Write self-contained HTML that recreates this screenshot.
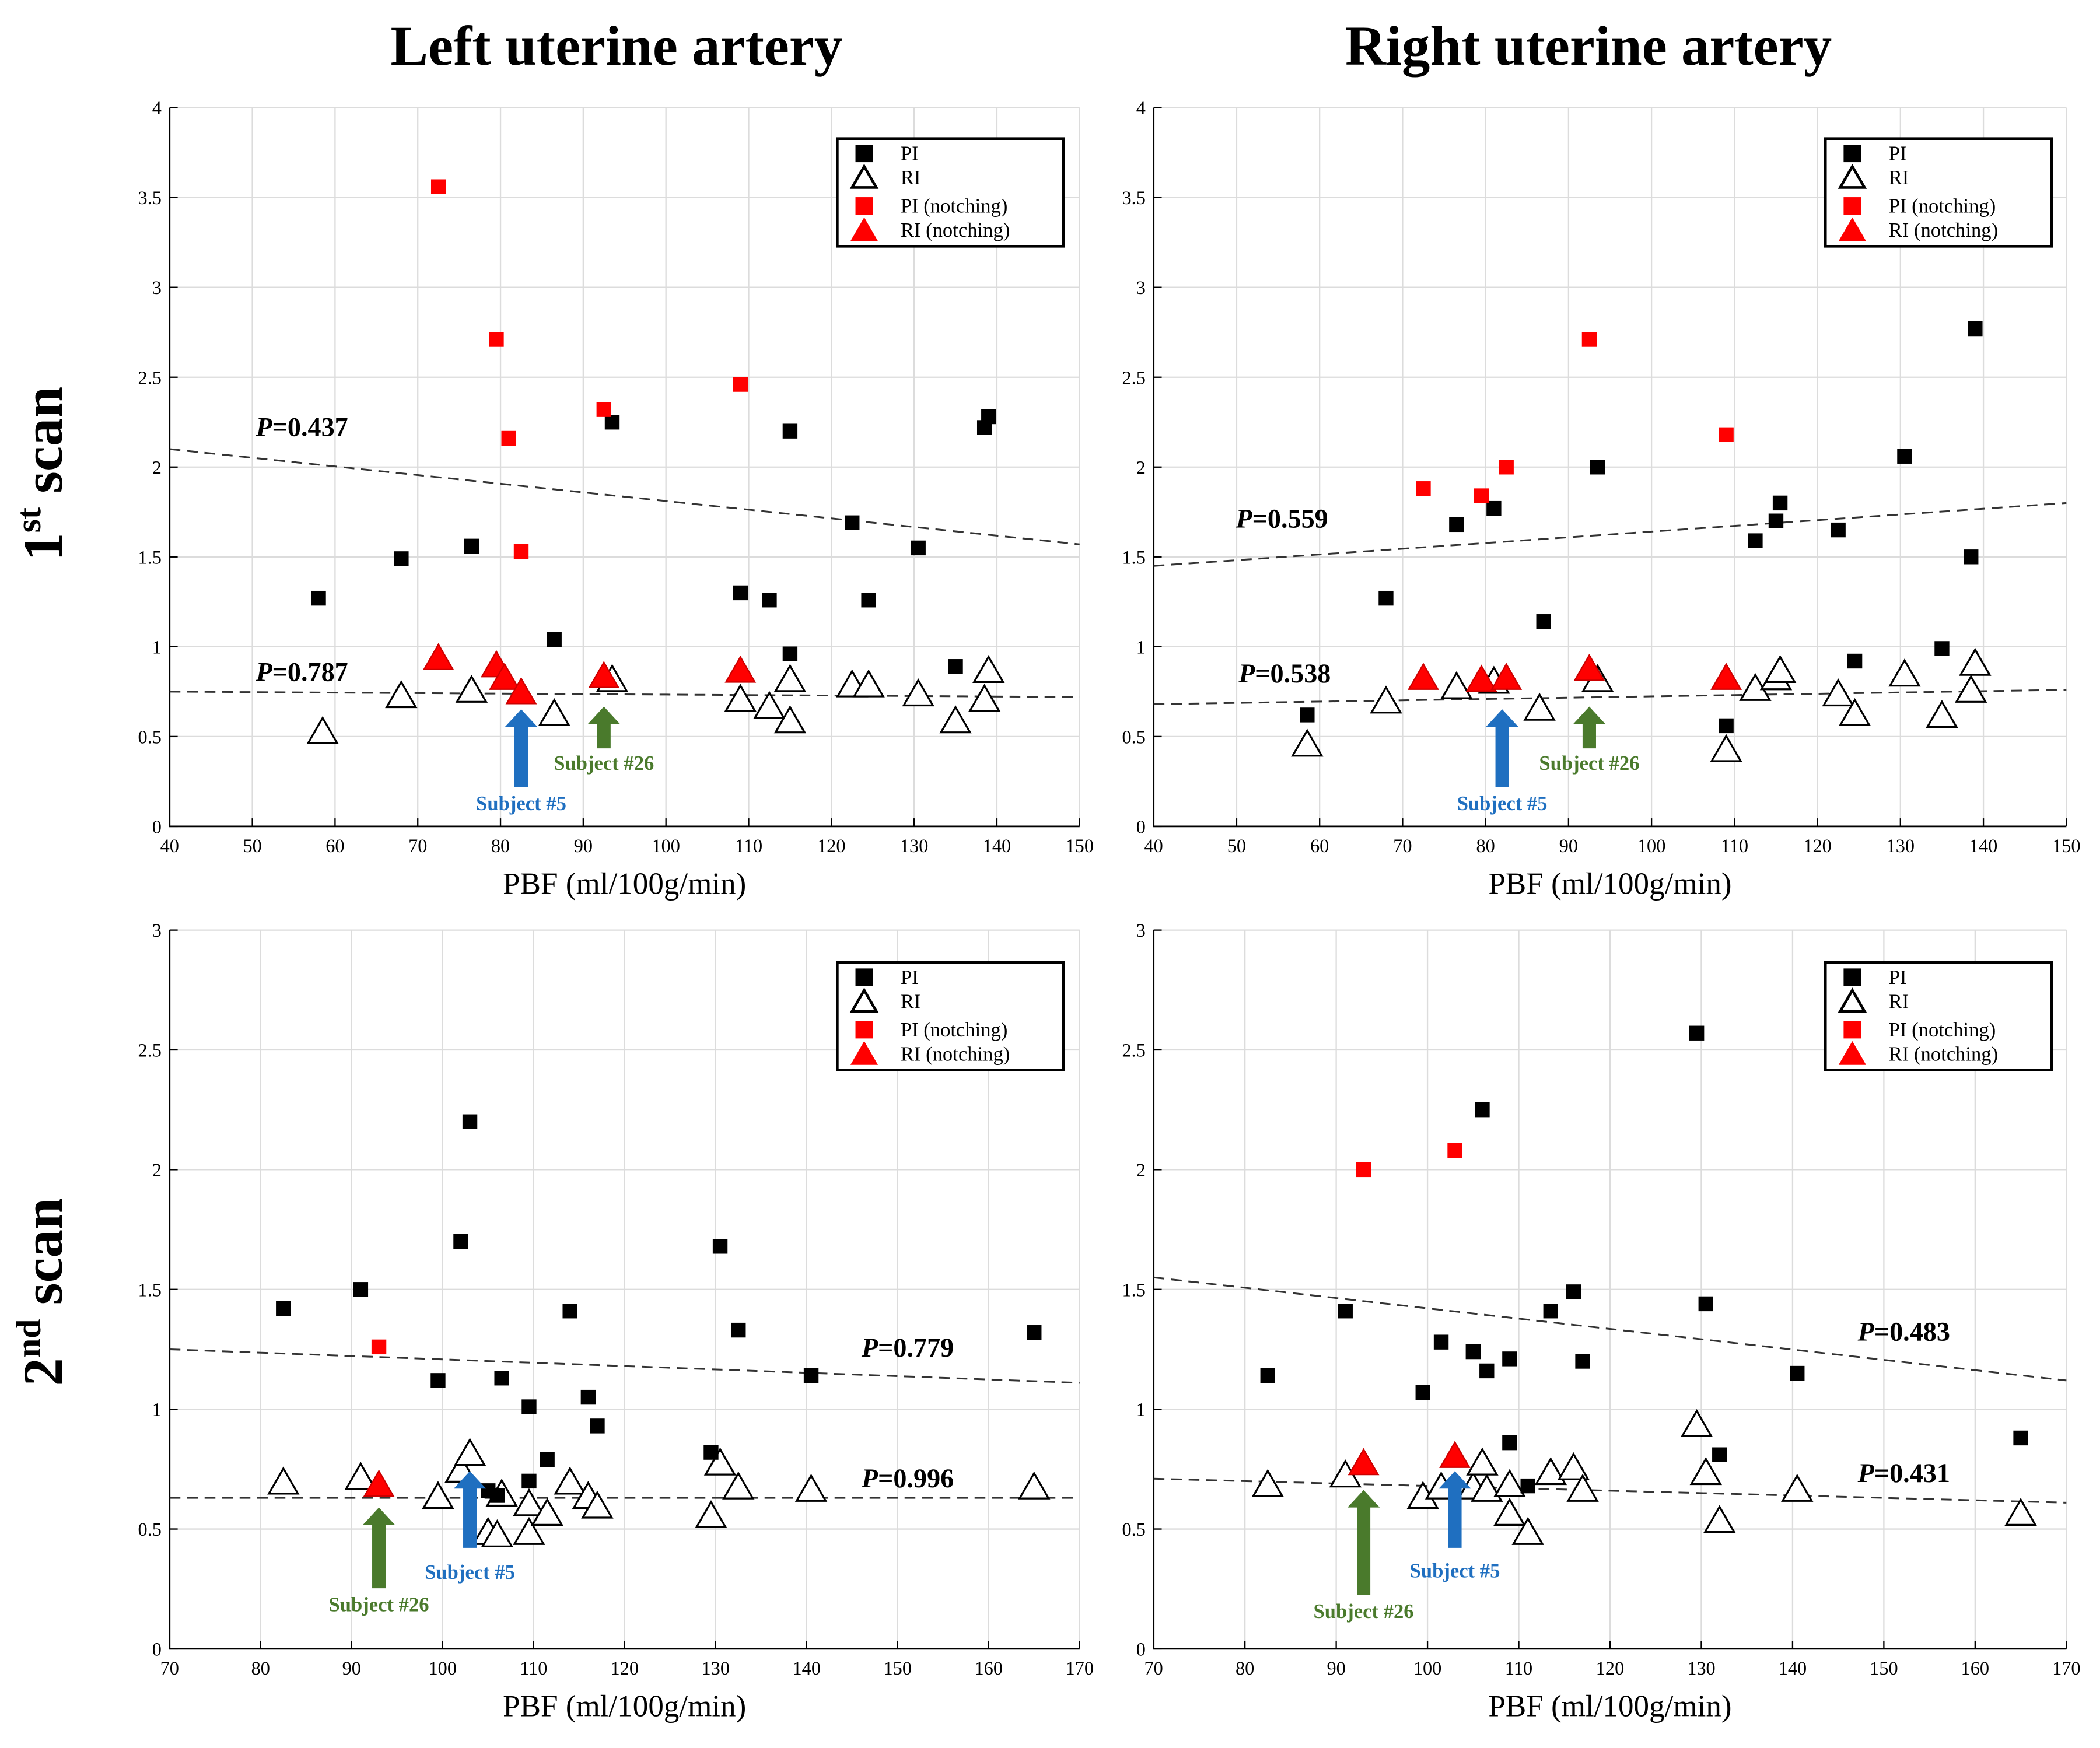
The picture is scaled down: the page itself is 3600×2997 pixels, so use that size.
<!DOCTYPE html>
<html><head><meta charset="utf-8"><style>
html,body{margin:0;padding:0;background:#fff;}
svg{display:block;font-family:"Liberation Serif",serif;}
</style></head><body>
<svg id="fig" width="3600" height="2997" viewBox="0 0 1560 1298.7" xmlns="http://www.w3.org/2000/svg">
<text x="458" y="48" text-anchor="middle" font-size="42" font-weight="bold">Left uterine artery</text>
<text x="1180" y="48" text-anchor="middle" font-size="42" font-weight="bold">Right uterine artery</text>
<text transform="translate(46,352) rotate(-90)" text-anchor="middle" font-size="42" font-weight="bold">1<tspan font-size="26" dy="-16">st</tspan><tspan dy="16"> scan</tspan></text>
<text transform="translate(46,960) rotate(-90)" text-anchor="middle" font-size="42" font-weight="bold">2<tspan font-size="26" dy="-16">nd</tspan><tspan dy="16"> scan</tspan></text>
</svg>
<script>
// ---- Data ----
const tlPI=[[58,1.27],[68,1.49],[76.5,1.56],[86.5,1.04],[93.5,2.25],[109,1.3],[112.5,1.26],[115,2.2],[115,0.96],[122.5,1.69],[124.5,1.26],[130.5,1.55],[135,0.89],[138.5,2.22],[139,2.28]];
const tlPIn=[[72.5,3.56],[79.5,2.71],[81,2.16],[82.5,1.53],[92.5,2.32],[109,2.46]];
const tlRI=[[58.5,0.52],[68,0.72],[76.5,0.75],[86.5,0.62],[93.5,0.81],[109,0.7],[112.5,0.66],[115,0.58],[115,0.81],[122.5,0.78],[124.5,0.78],[130.5,0.73],[135,0.58],[138.5,0.7],[139,0.86]];
const tlRIn=[[72.5,0.93],[79.5,0.89],[80.5,0.82],[82.5,0.74],[92.5,0.83],[109,0.86]];
const tlFitPI=[2.1,1.57], tlFitRI=[0.75,0.72];

const trPI=[[58.5,0.62],[68,1.27],[76.5,1.68],[81,1.77],[87,1.14],[93.5,2.0],[109,0.56],[112.5,1.59],[115,1.7],[115.5,1.8],[122.5,1.65],[124.5,0.92],[130.5,2.06],[135,0.99],[138.5,1.5],[139,2.77]];
const trPIn=[[72.5,1.88],[79.5,1.84],[82.5,2.0],[92.5,2.71],[109,2.18]];
const trRI=[[58.5,0.45],[68,0.69],[76.5,0.77],[81,0.8],[86.5,0.65],[93.5,0.81],[109,0.42],[112.5,0.76],[115,0.82],[115.5,0.86],[122.5,0.73],[124.5,0.62],[130.5,0.84],[135,0.61],[138.5,0.75],[139,0.9]];
const trRIn=[[72.5,0.82],[79.5,0.81],[82.5,0.82],[92.5,0.87],[109,0.82]];
const trFitPI=[1.45,1.8], trFitRI=[0.68,0.76];

const blPI=[[82.5,1.42],[91,1.5],[99.5,1.12],[102,1.7],[103,2.2],[105,0.66],[106,0.64],[106.5,1.13],[109.5,1.01],[109.5,0.7],[111.5,0.79],[114,1.41],[116,1.05],[117,0.93],[129.5,0.82],[130.5,1.68],[132.5,1.33],[140.5,1.14],[165,1.32]];
const blPIn=[[93,1.26]];
const blRI=[[82.5,0.69],[91,0.71],[99.5,0.63],[102,0.74],[103,0.81],[105,0.48],[106,0.47],[106.5,0.64],[109.5,0.6],[109.5,0.48],[111.5,0.56],[114,0.69],[116,0.63],[117,0.59],[129.5,0.55],[130.5,0.77],[132.5,0.67],[140.5,0.66],[165,0.67]];
const blRIn=[[93,0.68]];
const blFitPI=[1.25,1.11], blFitRI=[0.63,0.63];

const brPI=[[82.5,1.14],[91,1.41],[99.5,1.07],[101.5,1.28],[105,1.24],[106,2.25],[106.5,1.16],[109,1.21],[109,0.86],[111,0.68],[113.5,1.41],[116,1.49],[117,1.2],[129.5,2.57],[130.5,1.44],[132,0.81],[140.5,1.15],[165,0.88]];
const brPIn=[[93,2.0],[103,2.08]];
const brRI=[[82.5,0.68],[91,0.72],[99.5,0.63],[101.5,0.67],[105,0.67],[106,0.77],[106.5,0.66],[109,0.68],[109,0.56],[111,0.48],[113.5,0.73],[116,0.75],[117,0.66],[129.5,0.93],[130.5,0.73],[132,0.53],[140.5,0.66],[165,0.56]];
const brRIn=[[93,0.77],[103,0.8]];
const brFitPI=[1.55,1.12], brFitRI=[0.71,0.61];

const xTicks1=[40,50,60,70,80,90,100,110,120,130,140,150];
const yTicks1=[0,0.5,1,1.5,2,2.5,3,3.5,4];
const xTicks2=[70,80,90,100,110,120,130,140,150,160,170];
const yTicks2=[0,0.5,1,1.5,2,2.5,3];

const NS="http://www.w3.org/2000/svg";
const svg=document.getElementById('fig');
function mk(tag,attrs,parent){const e=document.createElementNS(NS,tag);for(const k in attrs)e.setAttribute(k,attrs[k]);(parent||svg).appendChild(e);return e;}

function panel(id,L,R,T,B,xt,yt,PI,PIn,RI,RIn,fitPI,fitRI,pLabels,arrows,legendX,legendY){
  const g=mk('g',{});
  
  
  const x0=xt[0],x1=xt[xt.length-1],y0=yt[0],y1=yt[yt.length-1];
  const sx=v=>L+(v-x0)/(x1-x0)*(R-L);
  const sy=v=>B-(v-y0)/(y1-y0)*(B-T);
  xt.forEach(t=>{
    const l=mk('line',{x1:sx(t),x2:sx(t),y1:T,y2:B,stroke:'#dcdcdc','stroke-width':1},g);
    
    
    mk('line',{x1:sx(t),x2:sx(t),y1:B,y2:B-6,stroke:'#000','stroke-width':1},g);
    const tx=mk('text',{x:sx(t),y:B+19,'text-anchor':'middle','font-size':14},g);
    tx.textContent=t;
    
    
  });
  yt.forEach(t=>{
    const l=mk('line',{x1:L,x2:R,y1:sy(t),y2:sy(t),stroke:'#dcdcdc','stroke-width':1},g);
    
    
    mk('line',{x1:L,x2:L+6,y1:sy(t),y2:sy(t),stroke:'#000','stroke-width':1},g);
    const tx=mk('text',{x:L-6,y:sy(t)+5,'text-anchor':'end','font-size':14},g);
    tx.textContent=t;
    
    
  });
  const ax=mk('path',{d:`M${L},${T}V${B}H${R}`,fill:'none',stroke:'#000','stroke-width':1.2},g);
  
  
  const xl=mk('text',{x:(L+R)/2,y:B+50,'text-anchor':'middle','font-size':23},g);
  xl.textContent='PBF (ml/100g/min)';
  
  
  [[fitPI,'pi-fit-line'],[fitRI,'ri-fit-line']].forEach(([f,n])=>{
    const l=mk('line',{x1:sx(x0),y1:sy(f[0]),x2:sx(x1),y2:sy(f[1]),stroke:'#333','stroke-width':1.3,'stroke-dasharray':'8,5'},g);
    
    
  });
  const tri=(x,y,s)=>`M${x},${y-s*0.62}L${x-s*0.6},${y+s*0.42}L${x+s*0.6},${y+s*0.42}Z`;
  RI.forEach(p=>{const e=mk('path',{d:tri(sx(p[0]),sy(p[1]),18),fill:'#fff',stroke:'#000','stroke-width':1.4},g);
    });
  RIn.forEach(p=>{const e=mk('path',{d:tri(sx(p[0]),sy(p[1]),18),fill:'#f00',stroke:'#c00','stroke-width':1},g);
    });
  PI.forEach(p=>{const e=mk('rect',{x:sx(p[0])-5.5,y:sy(p[1])-5.5,width:11,height:11,fill:'#000'},g);
    });
  PIn.forEach(p=>{const e=mk('rect',{x:sx(p[0])-5.5,y:sy(p[1])-5.5,width:11,height:11,fill:'#f00'},g);
    });
  pLabels.forEach(p=>{
    const t=mk('text',{x:p[0],y:p[1],'font-size':20,'font-weight':'bold'},g);
    t.innerHTML='<tspan font-style="italic">P</tspan>='+p[2];
    
    
  });
  arrows.forEach(a=>{
    const [xv,ytop,ybot,col,label,ly]=a;const x=sx(xv);
    const e=mk('path',{d:`M${x-5},${ybot}V${ytop+13}H${x-12}L${x},${ytop}L${x+12},${ytop+13}H${x+5}V${ybot}Z`,fill:col},g);
    
    
    const t=mk('text',{x:x,y:ly,'text-anchor':'middle','font-size':15,'font-weight':'bold',fill:col},g);
    t.textContent=label;
    
    
  });
  const lg=mk('g',{},g);
  
  
  mk('rect',{x:legendX,y:legendY,width:168,height:80,fill:'#fff',stroke:'#000','stroke-width':2},lg);
  const items=[['sq','#000','PI'],['tri','#000','RI'],['sq','#f00','PI (notching)'],['trif','#f00','RI (notching)']];
  const ys=[11,29,50,68];
  items.forEach((it,i)=>{
    const cx=legendX+20,cy=legendY+ys[i];
    let e;
    if(it[0]==='sq') e=mk('rect',{x:cx-6.5,y:cy-6.5,width:13,height:13,fill:it[1]},lg);
    else if(it[0]==='tri') e=mk('path',{d:tri(cx,cy+1,15),fill:'#fff',stroke:'#000','stroke-width':2},lg);
    else e=mk('path',{d:tri(cx,cy+1,17),fill:'#f00'},lg);
    
    
    const t=mk('text',{x:legendX+47,y:cy+5,'font-size':15},lg);
    t.textContent=it[2];
    
    
  });
}
panel('top-left',126,802,80,614,xTicks1,yTicks1,tlPI,tlPIn,tlRI,tlRIn,tlFitPI,tlFitRI,
  [[190,324,'0.437'],[190,506,'0.787']],
  [[82.5,527,585,'#1f6fc0','Subject #5',602],[92.5,525,556,'#4a7a2c','Subject #26',572]],622,103);
panel('top-right',857,1535,80,614,xTicks1,yTicks1,trPI,trPIn,trRI,trRIn,trFitPI,trFitRI,
  [[918,392,'0.559'],[920,507,'0.538']],
  [[82,527,585,'#1f6fc0','Subject #5',602],[92.5,525,556,'#4a7a2c','Subject #26',572]],1356,103);
panel('bottom-left',126,802,691,1225,xTicks2,yTicks2,blPI,blPIn,blRI,blRIn,blFitPI,blFitRI,
  [[640,1008,'0.779'],[640,1105,'0.996']],
  [[93,1120,1180,'#4a7a2c','Subject #26',1197],[103,1093,1150,'#1f6fc0','Subject #5',1173]],622,715);
panel('bottom-right',857,1535,691,1225,xTicks2,yTicks2,brPI,brPIn,brRI,brRIn,brFitPI,brFitRI,
  [[1380,996,'0.483'],[1380,1101,'0.431']],
  [[93,1107,1185,'#4a7a2c','Subject #26',1202],[103,1093,1150,'#1f6fc0','Subject #5',1172]],1356,715);
</script>
</body></html>
